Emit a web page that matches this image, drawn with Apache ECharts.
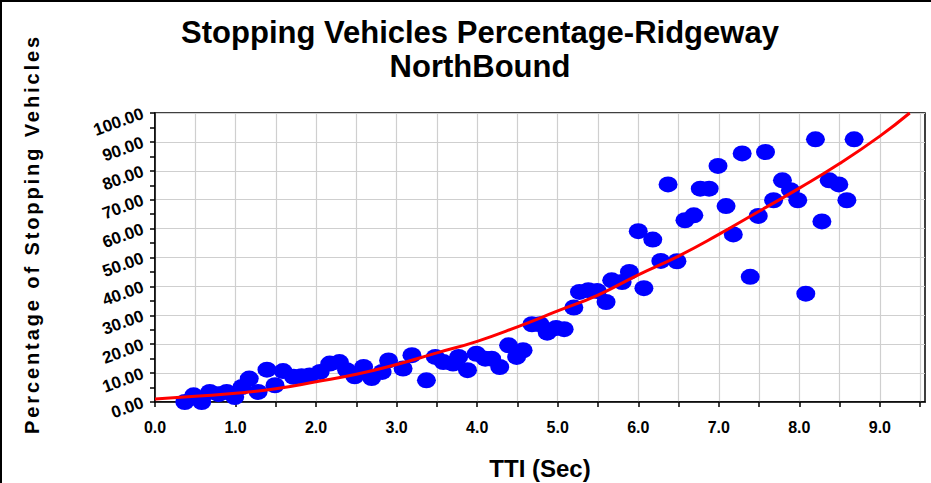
<!DOCTYPE html>
<html>
<head>
<meta charset="utf-8">
<script src="https://cdn.jsdelivr.net/npm/echarts@6/dist/echarts.min.js"></script>
<style>
  html, body { margin: 0; padding: 0; background: #fff; }
  #chart { width: 931px; height: 483px; }
</style>
</head>
<body>
<div id="chart"></div>
<script>
// Observed TTI (seconds) and share of vehicles that stopped (%)
const ttiSec = [
  0.37, 0.48, 0.58, 0.68, 0.79, 0.89, 0.99, 1.08, 1.17, 1.28,
  1.39, 1.49, 1.59, 1.72, 1.82, 1.92, 2.05, 2.17, 2.29, 2.38,
  2.48, 2.59, 2.69, 2.82, 2.90, 3.08, 3.19, 3.37, 3.48, 3.58,
  3.70, 3.77, 3.88, 3.99, 4.10, 4.18, 4.28, 4.39, 4.49, 4.57,
  4.68, 4.78, 4.87, 4.98, 5.08, 5.20, 5.27, 5.38, 5.49, 5.60,
  5.67, 5.80, 5.89, 6.00, 6.07, 6.18, 6.28, 6.37, 6.48, 6.58,
  6.69, 6.77, 6.88, 6.99, 7.09, 7.18, 7.29, 7.39, 7.49, 7.58,
  7.68, 7.79, 7.89, 7.98, 8.08, 8.20, 8.28, 8.37, 8.49, 8.59,
  8.68
];
const stopPct = [
  0.0, 2.3, 0.0, 3.5, 2.7, 3.5, 1.7, 5.2, 8.1, 3.5,
  11.2, 5.8, 10.7, 8.7, 8.9, 9.2, 10.4, 13.3, 13.8, 11.0,
  8.9, 12.1, 8.3, 10.4, 14.4, 11.6, 16.2, 7.5, 15.6, 13.8,
  13.3, 15.6, 11.0, 16.7, 15.0, 15.0, 12.1, 19.6, 15.6, 17.9,
  26.9, 26.9, 24.0, 25.6, 25.2, 32.7, 38.1, 38.7, 38.4, 34.6,
  42.1, 41.5, 45.0, 59.1, 39.4, 56.2, 48.8, 75.3, 48.7, 62.9,
  64.6, 73.8, 73.8, 81.7, 67.8, 58.0, 86.0, 43.3, 64.4, 86.5,
  69.8, 76.7, 73.3, 69.8, 37.5, 90.9, 62.5, 76.7, 75.3, 69.8,
  90.9
];

// Trend curve, sampled along the fitted line
const trendTti = [0, 0.5, 1, 1.5, 2, 2.5, 3, 3.5, 4, 4.5, 5, 5.5, 6, 6.5, 7, 7.5, 8, 8.5, 9, 9.37];
const trendPct = [1, 2, 3, 4.6, 7, 9.6, 13, 17, 21, 26, 31.5, 37, 44, 50.5, 58, 66, 74, 82.5, 92, 100];

// Axis tick values
const xMajorTicks = [0, 1, 2, 3, 4, 5, 6, 7, 8, 9];
const xMinorTicks = [0, 0.5, 1, 1.5, 2, 2.5, 3, 3.5, 4, 4.5, 5, 5.5, 6, 6.5, 7, 7.5, 8, 8.5, 9, 9.5];

const titleLines = ['Stopping Vehicles Percentage-Ridgeway', 'NorthBound'];
const xTitle = 'TTI (Sec)';
const yTitle = 'Percentage of Stopping Vehicles';

const FONT = '"Liberation Sans", Arial, sans-serif';

const points = ttiSec.map((t, i) => [t, stopPct[i]]);
const trend = trendTti.map((t, i) => [t, trendPct[i]]);

const chart = echarts.init(document.getElementById('chart'), null, { renderer: 'svg' });

chart.setOption({
  animation: false,
  backgroundColor: '#ffffff',
  title: {
    text: titleLines.join('\n'),
    left: 475,
    top: 10,
    textAlign: 'center',
    textStyle: {
      fontFamily: FONT,
      fontWeight: 'bold',
      fontSize: 31,
      lineHeight: 34,
      color: '#000'
    }
  },
  graphic: [
    {
      type: 'rect',
      shape: { x: 1, y: 1, width: 960, height: 520 },
      style: { fill: 'none', stroke: '#000', lineWidth: 2 },
      silent: true
    },
    {
      type: 'text',
      id: 'yTitle',
      x: 32,
      y: 234,
      rotation: Math.PI / 2,
      style: {
        text: yTitle,
        fontFamily: FONT,
        fontWeight: 'bold',
        fontSize: 20,
        fill: '#000',
        align: 'center',
        verticalAlign: 'middle'
      },
      silent: true
    }
  ],
  grid: {
    left: 155,
    right: 6,
    top: 113,
    bottom: 81,
    outerBoundsMode: 'none',
    show: true,
    borderColor: '#000',
    borderWidth: 1.5,
    backgroundColor: '#fff'
  },
  xAxis: {
    type: 'value',
    min: 0,
    max: 9.56,
    interval: 1,
    name: xTitle,
    nameLocation: 'middle',
    nameGap: 54,
    nameTextStyle: {
      fontFamily: FONT,
      fontWeight: 'bold',
      fontSize: 24,
      color: '#000'
    },
    axisLine: { show: true, lineStyle: { color: '#000', width: 1.5 } },
    axisTick: {
      show: true,
      length: 5,
      customValues: xMinorTicks,
      lineStyle: { color: '#000', width: 1.5 }
    },
    axisLabel: {
      customValues: xMajorTicks,
      margin: 17,
      fontFamily: FONT,
      fontWeight: 'bold',
      fontSize: 16,
      color: '#000',
      formatter: v => v.toFixed(1)
    },
    splitLine: { show: true, lineStyle: { color: '#cfcfcf', width: 1.2 } }
  },
  yAxis: {
    type: 'value',
    min: 0,
    max: 100,
    interval: 10,
    axisLine: { show: true, lineStyle: { color: '#000', width: 1.5 } },
    axisTick: { show: true, length: 5, lineStyle: { color: '#000', width: 1.5 } },
    minorTick: { show: true, splitNumber: 2, length: 5, lineStyle: { color: '#000', width: 1.5 } },
    axisLabel: {
      margin: 12,
      rotate: 20,
      fontFamily: FONT,
      fontWeight: 'bold',
      fontSize: 17,
      color: '#000',
      formatter: v => v.toFixed(2)
    },
    splitLine: { show: true, lineStyle: { color: '#cfcfcf', width: 1.2 } }
  },
  series: [
    {
      type: 'scatter',
      data: points,
      symbol: 'path://M1,0A1,1,0,1,1,-1,0A1,1,0,1,1,1,0Z',
      symbolSize: [19, 16],
      itemStyle: { color: '#0000ff', opacity: 1 },
      z: 2
    },
    {
      type: 'line',
      data: trend,
      smooth: true,
      showSymbol: false,
      lineStyle: { color: '#ff0000', width: 3 },
      z: 3
    }
  ]
});

// Spread the letters of the vertical axis title
chart.getDom().querySelectorAll('text').forEach(t => {
  if (t.textContent === yTitle) {
    t.setAttribute('letter-spacing', '2.9');
  }
});
</script>
</body>
</html>
